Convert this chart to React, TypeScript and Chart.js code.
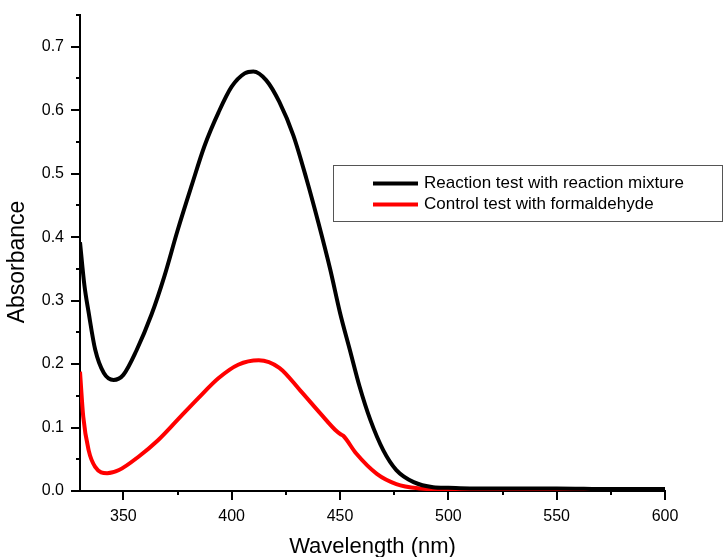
import React, { useEffect, useRef } from "react";
import { Chart, registerables } from "chart.js";

Chart.register(...registerables);

// Reaction test with reaction mixture (black)
const blackWavelengths = [330, 332, 334, 337, 341, 345.5, 350, 356, 363, 369, 375, 381.5, 387.5, 394, 400, 406, 410, 416, 422, 428.5, 434.5, 440, 445.5, 450, 454.5, 459, 464, 470, 476, 484, 493, 500, 510, 530, 550, 575, 600];
const blackAbsorbance = [0.392, 0.325, 0.281, 0.223, 0.186, 0.175, 0.183, 0.221, 0.278, 0.339, 0.41, 0.481, 0.544, 0.597, 0.637, 0.658, 0.661, 0.647, 0.613, 0.56, 0.492, 0.423, 0.349, 0.281, 0.223, 0.165, 0.112, 0.064, 0.033, 0.014, 0.006, 0.005, 0.004, 0.004, 0.004, 0.003, 0.003];

// Control test with formaldehyde (red)
const redWavelengths = [330, 331.5, 334, 337, 342.5, 348, 357, 366, 375, 384.5, 394, 403, 412.5, 422, 431.5, 441, 448.5, 450.5, 451.5, 457.5, 467, 476, 487, 500, 520, 550, 600];
const redAbsorbance = [0.188, 0.117, 0.064, 0.038, 0.028, 0.033, 0.054, 0.08, 0.112, 0.146, 0.178, 0.199, 0.206, 0.194, 0.159, 0.122, 0.094, 0.089, 0.087, 0.059, 0.027, 0.011, 0.004, 0.002, 0.001, 0.001, 0.001];

const seriesLabels = ["Reaction test with reaction mixture", "Control test with formaldehyde"];
const seriesColors = ["#000000", "#ff0000"];
const xTitle = "Wavelength (nm)";
const yTitle = "Absorbance";

const xMin = 330;
const xMax = 600;
const yMin = 0;
const yMax = 0.75;
const xMajorTicks = [350, 400, 450, 500, 550, 600];
const xMinorTicks = [375, 425, 475, 525, 575];
const yMajorTicks = [0, 0.1, 0.2, 0.3, 0.4, 0.5, 0.6, 0.7];
const yMinorTicks = [0.05, 0.15, 0.25, 0.35, 0.45, 0.55, 0.65, 0.75];

const FONT = "'Liberation Sans', Arial, sans-serif";

const tickPlugin = {
  id: "originTicks",
  afterDraw(chart: any) {
    const ctx = chart.ctx;
    const xs = chart.scales.x;
    const ys = chart.scales.y;
    const area = chart.chartArea;
    ctx.save();
    ctx.strokeStyle = "#000";
    ctx.lineWidth = 2;
    ctx.beginPath();
    for (const v of xMajorTicks) {
      const px = Math.round(xs.getPixelForValue(v));
      ctx.moveTo(px, area.bottom);
      ctx.lineTo(px, area.bottom + 9);
    }
    for (const v of xMinorTicks) {
      const px = Math.round(xs.getPixelForValue(v));
      ctx.moveTo(px, area.bottom);
      ctx.lineTo(px, area.bottom + 4);
    }
    for (const v of yMajorTicks) {
      const py = Math.round(ys.getPixelForValue(v));
      ctx.moveTo(area.left, py);
      ctx.lineTo(area.left - 9, py);
    }
    for (const v of yMinorTicks) {
      const py = Math.round(ys.getPixelForValue(v));
      ctx.moveTo(area.left, py);
      ctx.lineTo(area.left - 4, py);
    }
    ctx.stroke();
    // y axis title
    ctx.translate(18, 262);
    ctx.rotate(-Math.PI / 2);
    ctx.fillStyle = "#000";
    ctx.font = `23px ${FONT}`;
    ctx.textAlign = "center";
    ctx.textBaseline = "middle";
    ctx.fillText(yTitle, 0, 0);
    ctx.restore();
  },
};

const legendPlugin = {
  id: "boxLegend",
  afterDraw(chart: any) {
    const ctx = chart.ctx;
    const bx = 333.5;
    const by = 165.5;
    const bw = 389;
    const bh = 56;
    ctx.save();
    ctx.fillStyle = "#fff";
    ctx.fillRect(bx, by, bw, bh);
    ctx.strokeStyle = "#555";
    ctx.lineWidth = 1;
    ctx.strokeRect(bx, by, bw, bh);
    const rows = [183.5, 204.5];
    chart.data.datasets.forEach((ds: any, i: number) => {
      ctx.strokeStyle = ds.borderColor;
      ctx.lineWidth = 4;
      ctx.beginPath();
      ctx.moveTo(373, rows[i]);
      ctx.lineTo(418, rows[i]);
      ctx.stroke();
      ctx.fillStyle = "#000";
      ctx.font = `17px ${FONT}`;
      ctx.textBaseline = "middle";
      ctx.textAlign = "left";
      ctx.fillText(ds.label, 424, rows[i]);
    });
    ctx.restore();
  },
};

export default function App() {
  const ref = useRef<HTMLCanvasElement | null>(null);
  useEffect(() => {
    if (!ref.current) return;
    const chart = new Chart(ref.current, {
      type: "line",
      data: {
        datasets: [
          {
            label: seriesLabels[0],
            data: blackWavelengths.map((w, i) => ({ x: w, y: blackAbsorbance[i] })),
            borderColor: seriesColors[0],
            backgroundColor: seriesColors[0],
            borderWidth: 4,
            pointRadius: 0,
            cubicInterpolationMode: "monotone",
            fill: false,
          },
          {
            label: seriesLabels[1],
            data: redWavelengths.map((w, i) => ({ x: w, y: redAbsorbance[i] })),
            borderColor: seriesColors[1],
            backgroundColor: seriesColors[1],
            borderWidth: 4,
            pointRadius: 0,
            cubicInterpolationMode: "monotone",
            fill: false,
          },
        ],
      },
      options: {
        animation: false,
        responsive: false,
        layout: { padding: { top: 15, right: 59, left: 0, bottom: 0 } },
        plugins: { legend: { display: false }, tooltip: { enabled: false } },
        scales: {
          x: {
            type: "linear",
            min: xMin,
            max: xMax,
            grid: { display: false, drawTicks: false },
            border: { display: true, color: "#000", width: 2 },
            ticks: {
              stepSize: 50,
              includeBounds: false,
              padding: 16,
              color: "#000",
              font: { family: FONT, size: 16 },
              maxRotation: 0,
            },
            title: {
              display: true,
              text: xTitle,
              color: "#000",
              font: { family: FONT, size: 22, lineHeight: 1 },
              padding: { top: 0, bottom: -1 },
            },
            afterFit: (s: any) => {
              s.height = 66;
              s.paddingLeft = 0;
              s.paddingRight = 0;
            },
          },
          y: {
            type: "linear",
            min: yMin,
            max: yMax,
            grid: { display: false, drawTicks: false },
            border: { display: true, color: "#000", width: 2 },
            ticks: {
              stepSize: 0.1,
              includeBounds: false,
              padding: 16,
              color: "#000",
              font: { family: FONT, size: 16 },
              callback: (v: any) => Number(v).toFixed(1),
            },
            title: { display: false },
            afterFit: (s: any) => {
              s.width = 80;
              s.paddingTop = 0;
              s.paddingBottom = 0;
            },
          },
        },
      },
      plugins: [tickPlugin, legendPlugin],
    } as any);
    return () => chart.destroy();
  }, []);
  return (
    <div style={{ position: "absolute", left: 0, top: 0, width: 724, height: 557, background: "#fff" }}>
      <canvas ref={ref} width={724} height={557} style={{ display: "block" }} />
    </div>
  );
}
